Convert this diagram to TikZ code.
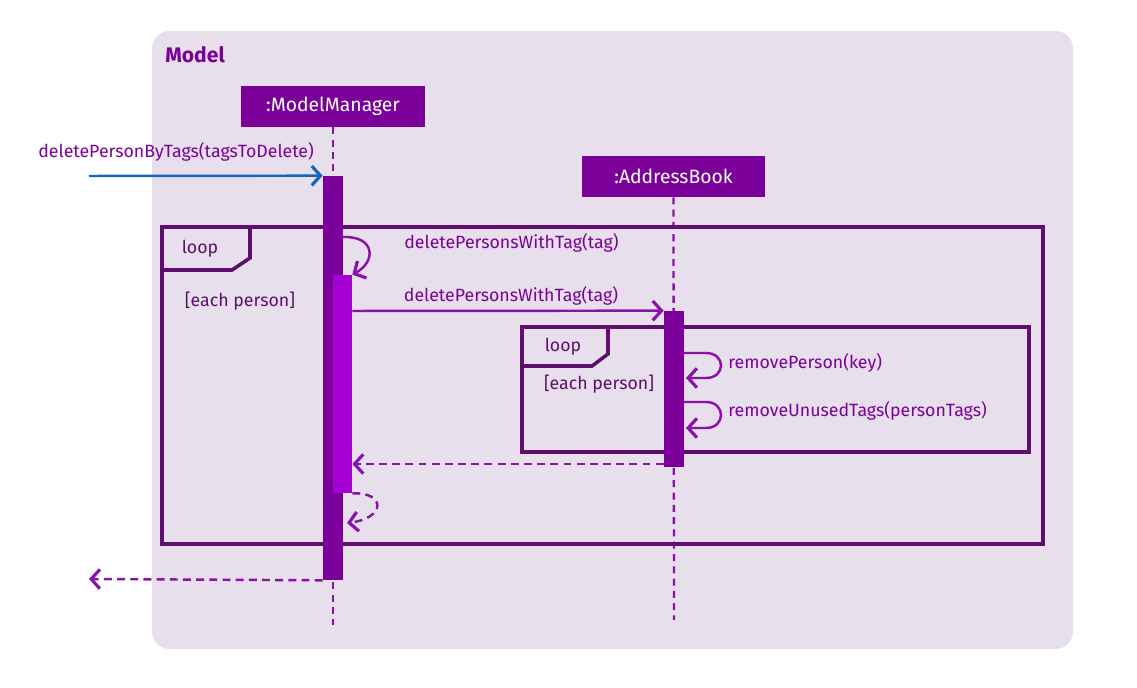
\documentclass[tikz,border=0pt]{standalone}
\usepackage{fontspec}
\setmainfont{Fira Sans}
\usetikzlibrary{arrows.meta}
\definecolor{bgmodel}{HTML}{E7DFEC}
\definecolor{mpurple}{HTML}{7B0099}
\definecolor{bright}{HTML}{A600D6}
\definecolor{framec}{HTML}{5E0F6E}
\definecolor{msgc}{HTML}{8A12A8}
\definecolor{callblue}{HTML}{1565C0}
\begin{document}
\begin{tikzpicture}[x=0.02cm,y=-0.02cm,
        head/.style={fill=mpurple,text=white,minimum width=3.68cm,minimum height=0.82cm,
            inner sep=0pt,font=\fontsize{11}{13}\selectfont},
        act/.style={fill=mpurple,minimum width=0.4cm,inner sep=0pt},
        life/.style={msgc,line width=1.3pt,dash pattern=on 4pt off 3pt},
        msg/.style={msgc,line width=1.4pt,-{Straight Barb[length=5pt,width=11pt,line width=1.8pt]}},
        ret/.style={msg,dash pattern=on 4.5pt off 3pt},
        lbl/.style={text=mpurple,font=\fontsize{10.1}{12}\selectfont,inner sep=0pt},
        frm/.style={framec,line width=2pt},
        guard/.style={text=framec,font=\fontsize{10.1}{12}\selectfont,inner sep=0pt}]
    \useasboundingbox (0,0) rectangle (1137,688);
    \fill[bgmodel,rounded corners=10pt] (152,31) rectangle (1073,649);
    \node[anchor=west,text=mpurple,font=\bfseries\fontsize{12}{14}\selectfont,inner sep=0pt] (model) at (165,55) {Model};

    \node[head] (mm) at (333,106.5) {:ModelManager};
    \node[head] (ab) at (673.5,176.5) {:AddressBook};
    \coordinate (mmend) at (333,625);
    \coordinate (abend) at (674,620);
    \draw[life] (mm.south) -- (mmend);
    \draw[life] (ab.south) -- (abend);

    % loop frames
    \draw[frm] (162,227) rectangle (1043,544);
    \draw[frm] (162,270) -- (232,270) -- (250,258) -- (250,227);
    \node[guard] (loopa) at (200,249) {loop};
    \node[guard] (eacha) at (240,301) {[each person]};
    \draw[frm] (522,327) rectangle (1029,452);
    \draw[frm] (522,366) -- (592,366) -- (608,354) -- (608,327);
    \node[guard] (loopb) at (563,347) {loop};
    \node[guard] (eachb) at (599,384) {[each person]};

    \node[act,minimum height=8.08cm] (actmm) at (333,378) {};
    \node[act,fill=bright,minimum width=0.38cm,minimum height=4.36cm] (actsub) at (342.5,384) {};
    \node[act,minimum height=3.12cm] (actab) at (674,389) {};

    \coordinate (start) at (89,176);
    \coordinate (finish) at (89,579);
    \draw[msg,callblue] (start) -- (actmm.north west);
    \node[lbl,anchor=west] (lin) at (38,152) {deletePersonByTags(tagsToDelete)};

    \coordinate (s1) at (343,237);
    \draw[msg] (s1) .. controls (376,236) and (376,262) .. (actsub.north east);
    \node[lbl,anchor=west] (l1) at (404,243) {deletePersonsWithTag(tag)};

    \draw[msg] (actsub.east |- 0,311) -- (actab.north west);
    \node[lbl] (l2) at (511,296) {deletePersonsWithTag(tag)};

    \coordinate (r1) at (684,353);
    \coordinate (r2) at (686,378);
    \draw[msg] (r1) -- (706,353) .. controls (726,353) and (726,378) .. (706,378) -- (r2);
    \node[lbl,anchor=west] (l3) at (728,363) {removePerson(key)};
    \coordinate (u1) at (684,402);
    \coordinate (u2) at (686,428);
    \draw[msg] (u1) -- (706,402) .. controls (726,402) and (726,428) .. (706,428) -- (u2);
    \node[lbl,anchor=west] (l4) at (728,411) {removeUnusedTags(personTags)};

    \draw[ret] (actab.south west |- 0,464) -- (actsub.east |- 0,464);
    \draw[ret] (actsub.south east) .. controls (386,492) and (386,518) .. (347,523);
    \draw[ret] (actmm.south west) -- (finish);
\end{tikzpicture}
\end{document}
